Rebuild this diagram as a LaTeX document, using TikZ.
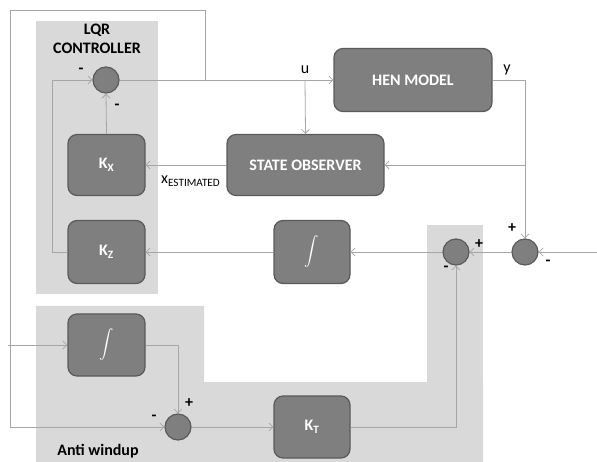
\documentclass[tikz,border=0pt]{standalone}
\usepackage{amsmath}
\usepackage{fontspec}
\setmainfont{Carlito}
\usetikzlibrary{arrows.meta,calc}
\definecolor{regiongray}{HTML}{D9D9D9}
\definecolor{blockgray}{HTML}{7F7F7F}
\definecolor{edgegray}{HTML}{5A5A5A}
\definecolor{linegray}{HTML}{A6A6A6}
\tikzset{>={Straight Barb[length=4pt,width=8pt]}}
\tikzstyle{block}=[rectangle,rounded corners=9pt,draw=edgegray,fill=blockgray,line width=1.2pt,inner sep=0pt,text=white,font=\fontsize{16}{18}\selectfont\bfseries]
\tikzstyle{sum}=[circle,draw=edgegray,fill=blockgray,line width=1.2pt,minimum size=26pt,inner sep=0pt]
\tikzstyle{flow}=[->,draw=linegray,line width=0.8pt]
\tikzstyle{sign}=[font=\fontsize{16}{18}\selectfont\bfseries,inner sep=0pt]
\tikzstyle{lbl}=[font=\fontsize{16}{18}\selectfont,inner sep=0pt]
\tikzstyle{integ}=[font=\fontsize{15}{17}\selectfont]

\begin{document}
\begin{tikzpicture}[x=1pt,y=-1pt]
	\useasboundingbox (0,0) rectangle (597,462);
	
	% shaded regions
	\fill[regiongray] (36,21) rectangle (158,294);
	\fill[regiongray] (427,225) rectangle (483,382);
	\fill[regiongray] (36,306) -- (204,306) -- (204,382) -- (483,382) -- (483,462) -- (36,462) -- cycle;
	
	\node[font=\fontsize{16}{19}\selectfont\bfseries,align=center] (lqrtitle) at (97,39) {LQR\\CONTROLLER};
	\node[font=\fontsize{16}{18}\selectfont\bfseries] (awtitle) at (98,451) {Anti windup};
	
	% blocks
	\node[block,minimum width=77pt,minimum height=61pt] (kx) at (106.5,165) {K\textsubscript{X}};
	\node[block,minimum width=77pt,minimum height=63pt] (kz) at (106.5,252) {K\textsubscript{Z}};
	\node[block,minimum width=158pt,minimum height=63pt] (hen) at (413,80) {HEN MODEL};
	\node[block,minimum width=157pt,minimum height=61pt] (obs) at (305.5,165) {STATE OBSERVER};
	\node[block,integ,minimum width=76pt,minimum height=63pt] (intg) at (312,252) {$\displaystyle\int$};
	\node[block,integ,minimum width=77pt,minimum height=62pt] (awint) at (106.5,345) {$\displaystyle\int$};
	\node[block,minimum width=76pt,minimum height=62pt] (kt) at (312,427) {K\textsubscript{T}};
	
	% summing junctions
	\node[sum] (sumtop) at (106,80) {};
	\node[sum] (summid) at (456,252) {};
	\node[sum] (sumright) at (525,252) {};
	\node[sum] (sumaw) at (178,427) {};
	
	\coordinate (usplit) at (305,80);
	\coordinate (ufb) at (205,80);
	\coordinate (fbtop) at (205,10);
	\coordinate (fbleft) at (10,10);
	\coordinate (kzleft) at (52,252);
	\coordinate (rin) at (597,252);
	\coordinate (awin) at (8,345);
	
	% connectors
	\draw[flow] (sumtop) -- (hen.west);
	\draw[flow] (usplit) -- (obs.north);
	\draw[flow] (ufb) -- (fbtop) -- (fbleft) |- (sumaw.west);
	\draw[flow] (hen.east) -| (sumright.north);
	\draw[flow] (sumright |- obs.east) -- (obs.east);
	\draw[flow] (obs.west) -- (kx.east);
	\draw[flow] (kx.north) -- (sumtop.south);
	\draw[flow] (kz.west) -- (kzleft) |- (sumtop.west);
	\draw[flow] (rin) -- (sumright.east);
	\draw[flow] (sumright.west) -- (summid.east);
	\draw[flow] (summid.west) -- (intg.east);
	\draw[flow] (intg.west) -- (kz.east);
	\draw[flow] (kt.east) -| (summid.south);
	\draw[flow] (awin) -- (awint.west);
	\draw[flow] (awint.east) -| (sumaw.north);
	\draw[flow] (sumaw.east) -- (kt.west);
	
	% labels
	\node[lbl] (ulbl) at (305,70) {u};
	\node[lbl] (ylbl) at (507,70) {y};
	\node[lbl,anchor=west] (xlbl) at (161,181) {x\textsubscript{ESTIMATED}};
	
	\node[sign] (s1) at (81,71) {-};
	\node[sign] (s2) at (117,107) {-};
	\node[sign] (s3) at (512,228) {+};
	\node[sign] (s4) at (548,263) {-};
	\node[sign] (s5) at (479,244) {+};
	\node[sign] (s6) at (446,269) {-};
	\node[sign] (s7) at (154,418) {-};
	\node[sign] (s8) at (189,403) {+};
\end{tikzpicture}
\end{document}
